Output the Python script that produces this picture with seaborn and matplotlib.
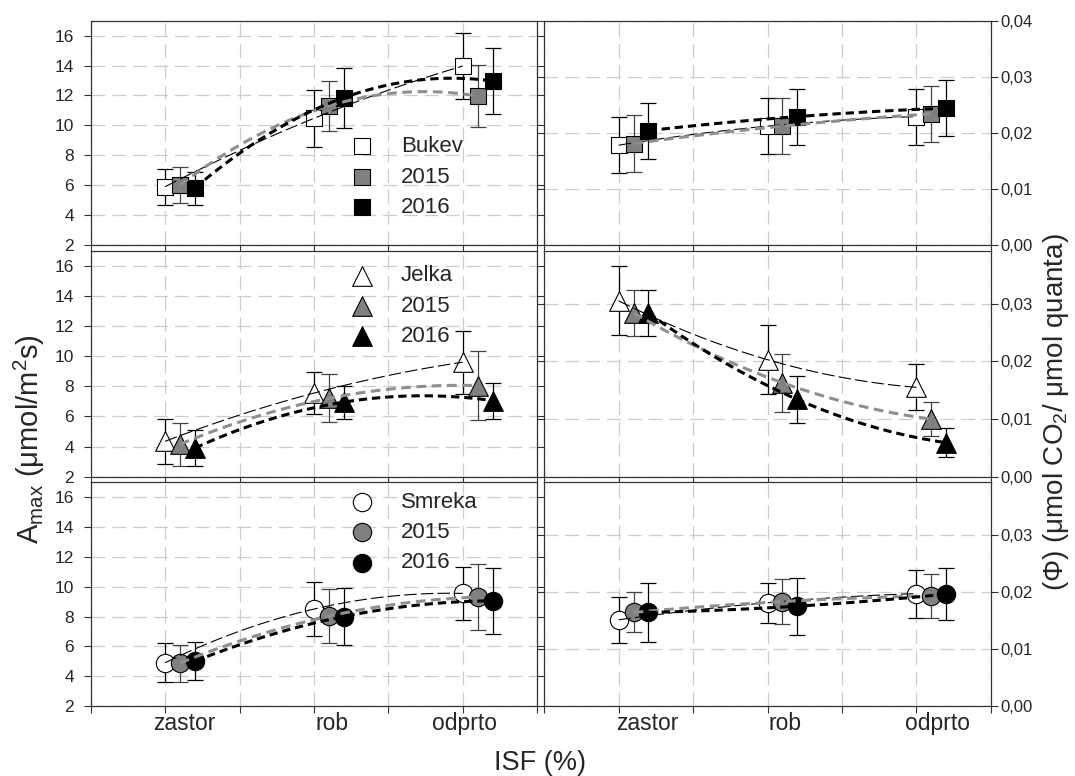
import numpy as np
import matplotlib
matplotlib.use("Agg")
import matplotlib.pyplot as plt
import seaborn as sns

# ---------------- data ----------------
categories = ["zastor", "rob", "odprto"]
cat_pos = [1, 2, 3]
species = ["Bukev", "Jelka", "Smreka"]
year_labels = ["2015", "2016"]

# Amax (umol/m2s)
bukev_amax_ref = [5.9, 10.47, 13.97]
bukev_amax_2015 = [6.0, 11.3, 11.96]
bukev_amax_2016 = [5.8, 11.85, 12.97]
bukev_amax_ref_err = [1.2, 1.9, 2.2]
bukev_amax_2015_err = [1.2, 1.7, 2.1]
bukev_amax_2016_err = [1.1, 2.0, 2.2]

jelka_amax_ref = [4.35, 7.55, 9.6]
jelka_amax_2015 = [4.15, 7.2, 8.05]
jelka_amax_2016 = [3.9, 6.95, 7.05]
jelka_amax_ref_err = [1.5, 1.4, 2.1]
jelka_amax_2015_err = [1.43, 1.6, 2.3]
jelka_amax_2016_err = [1.17, 1.1, 1.2]

smreka_amax_ref = [4.9, 8.5, 9.55]
smreka_amax_2015 = [4.88, 8.02, 9.3]
smreka_amax_2016 = [5.0, 8.0, 9.05]
smreka_amax_ref_err = [1.3, 1.8, 1.8]
smreka_amax_2015_err = [1.24, 1.8, 2.2]
smreka_amax_2016_err = [1.28, 1.9, 2.2]

# Phi (umol CO2 / umol quanta)
bukev_phi_ref = [0.0178, 0.0212, 0.0229]
bukev_phi_2015 = [0.0181, 0.0212, 0.0234]
bukev_phi_2016 = [0.0204, 0.0229, 0.0244]
bukev_phi_ref_err = [0.005, 0.005, 0.005]
bukev_phi_2015_err = [0.005, 0.005, 0.005]
bukev_phi_2016_err = [0.005, 0.005, 0.005]

jelka_phi_ref = [0.0305, 0.0203, 0.0155]
jelka_phi_2015 = [0.0284, 0.0163, 0.0100]
jelka_phi_2016 = [0.0284, 0.0134, 0.0059]
jelka_phi_ref_err = [0.006, 0.006, 0.004]
jelka_phi_2015_err = [0.004, 0.005, 0.0029]
jelka_phi_2016_err = [0.004, 0.004, 0.0025]

smreka_phi_ref = [0.0151, 0.0181, 0.0197]
smreka_phi_2015 = [0.0164, 0.0183, 0.0193]
smreka_phi_2016 = [0.0164, 0.0175, 0.0196]
smreka_phi_ref_err = [0.004, 0.0035, 0.0042]
smreka_phi_2015_err = [0.0035, 0.0039, 0.0038]
smreka_phi_2016_err = [0.0052, 0.005, 0.0046]

amax_ticks = [2, 4, 6, 8, 10, 12, 14, 16]
phi_ticks = [0.00, 0.01, 0.02, 0.03, 0.04]
phi_tick_labels = ["0,00", "0,01", "0,02", "0,03", "0,04"]

x_label = "ISF (%)"
y_label_left = r"A$_{\mathrm{max}}$ (μmol/m$^{2}$s)"
y_label_right = r"(Φ) (μmol CO$_{2}$/ μmol quanta)"

# ---------------- style ----------------
sns.set_theme(style="white")
plt.rcParams["font.family"] = ["Liberation Sans", "DejaVu Sans"]
plt.rcParams["mathtext.fontset"] = "custom"
plt.rcParams["mathtext.rm"] = "Liberation Sans"
plt.rcParams["mathtext.it"] = "Liberation Sans:italic"
plt.rcParams["mathtext.bf"] = "Liberation Sans:bold"
plt.rcParams["lines.scale_dashes"] = False

W, H = 1075, 776
fig = plt.figure(figsize=(W / 100, H / 100), dpi=100)

col_x = [90.7, 544.3]
col_w = 446.5
rows = [(20.7, 245.0), (250.7, 476.7), (482.3, 706.0)]

offsets = [0.0, 0.1, 0.2]
face_colors = ["white", "#808080", "black"]
err_colors = ["black", "#444444", "black"]
line_colors = ["black", "#8f8f8f", "black"]
line_widths = [0.8, 2.2, 2.2]
line_dashes = [(9, 3), (7, 4), (6, 3.5)]
markers = ["s", "^", "o"]
marker_sizes = [130, 200, 175]
label_pos_left = [1.13, 2.12, 3.01]
label_pos_right = [1.19, 2.12, 3.14]
legend_anchor = [(0.57, 0.485), (0.57, 0.935), (0.57, 0.958)]

amax_data = [
    ([bukev_amax_ref, bukev_amax_2015, bukev_amax_2016],
     [bukev_amax_ref_err, bukev_amax_2015_err, bukev_amax_2016_err]),
    ([jelka_amax_ref, jelka_amax_2015, jelka_amax_2016],
     [jelka_amax_ref_err, jelka_amax_2015_err, jelka_amax_2016_err]),
    ([smreka_amax_ref, smreka_amax_2015, smreka_amax_2016],
     [smreka_amax_ref_err, smreka_amax_2015_err, smreka_amax_2016_err]),
]
phi_data = [
    ([bukev_phi_ref, bukev_phi_2015, bukev_phi_2016],
     [bukev_phi_ref_err, bukev_phi_2015_err, bukev_phi_2016_err]),
    ([jelka_phi_ref, jelka_phi_2015, jelka_phi_2016],
     [jelka_phi_ref_err, jelka_phi_2015_err, jelka_phi_2016_err]),
    ([smreka_phi_ref, smreka_phi_2015, smreka_phi_2016],
     [smreka_phi_ref_err, smreka_phi_2015_err, smreka_phi_2016_err]),
]


def draw_series(ax, vals_list, errs_list, marker, msize):
    handles = []
    for k, (vals, errs) in enumerate(zip(vals_list, errs_list)):
        x = np.array(cat_pos, dtype=float) + offsets[k]
        ax.errorbar(x, vals, yerr=errs, fmt="none", ecolor=err_colors[k],
                    elinewidth=0.9, capsize=5.5, capthick=0.9, zorder=2)
        sns.scatterplot(x=x, y=vals, ax=ax, marker=marker, s=msize,
                        color=face_colors[k], edgecolor="black", linewidth=0.8,
                        zorder=3, legend=False)
        handles.append(ax.collections[-1])
        sns.regplot(x=x, y=vals, ax=ax, order=2, ci=None, scatter=False,
                    truncate=True,
                    line_kws=dict(color=line_colors[k], lw=line_widths[k],
                                  dashes=line_dashes[k], zorder=4))
    return handles


def style_axis(ax, bottom_row, label_pos):
    ax.set_xlim(0.5, 3.5)
    ax.set_xticks(np.arange(0.5, 3.51, 0.5))
    ax.set_xticklabels([])
    if bottom_row:
        ax.set_xticks(label_pos, minor=True)
        ax.set_xticklabels(categories, minor=True, fontsize=16.5)
        ax.tick_params(axis="x", which="minor", length=0, pad=4)
    ax.set_xlabel("")
    ax.set_ylabel("")
    ax.grid(True, which="major", color="#cdcdcd", lw=0.9, linestyle=(0, (10, 5)))
    ax.set_axisbelow(True)
    for sp in ax.spines.values():
        sp.set_visible(True)
        sp.set_color("#333333")
        sp.set_linewidth(0.9)
    ax.tick_params(axis="both", which="major", direction="out", length=5,
                   width=0.8, color="#333333", bottom=True, left=True, right=True)


for r in range(3):
    top, bottom = rows[r]
    rect_l = [col_x[0] / W, 1 - bottom / H, col_w / W, (bottom - top) / H]
    rect_r = [col_x[1] / W, 1 - bottom / H, col_w / W, (bottom - top) / H]

    # left: Amax
    axl = fig.add_axes(rect_l)
    vals, errs = amax_data[r]
    hl = draw_series(axl, vals, errs, markers[r], marker_sizes[r])
    style_axis(axl, r == 2, label_pos_left)
    axl.set_ylim(2, 17)
    axl.set_yticks(amax_ticks)
    axl.set_yticklabels([str(t) for t in amax_ticks], fontsize=12.5)
    axl.tick_params(axis="y", labelleft=True, labelright=False, pad=7)
    axl.legend(hl, [species[r]] + year_labels, loc="upper left",
               bbox_to_anchor=legend_anchor[r], frameon=False, fontsize=16,
               borderpad=0, handlelength=1.5, handletextpad=1.0,
               labelspacing=0.42, borderaxespad=0)

    # right: Phi
    axr = fig.add_axes(rect_r)
    vals, errs = phi_data[r]
    draw_series(axr, vals, errs, markers[r], marker_sizes[r])
    style_axis(axr, r == 2, label_pos_right)
    top_lim = 0.04 if r == 0 else 0.0392
    axr.set_ylim(0, top_lim)
    nt = 5 if r == 0 else 4
    axr.set_yticks(phi_ticks[:nt])
    axr.set_yticklabels(phi_tick_labels[:nt], fontsize=12)
    axr.tick_params(axis="y", labelleft=False, labelright=True, pad=2)

fig.text(29 / W, 1 - 439 / H, y_label_left, rotation=90, ha="center",
         va="center", fontsize=21)
fig.text(1056 / W, 1 - 412 / H, y_label_right, rotation=90, ha="center",
         va="center", fontsize=20)
fig.text(540 / W, 1 - 770 / H, x_label, ha="center", va="baseline",
         fontsize=19.5)

fig.savefig("out.png", dpi=100)
